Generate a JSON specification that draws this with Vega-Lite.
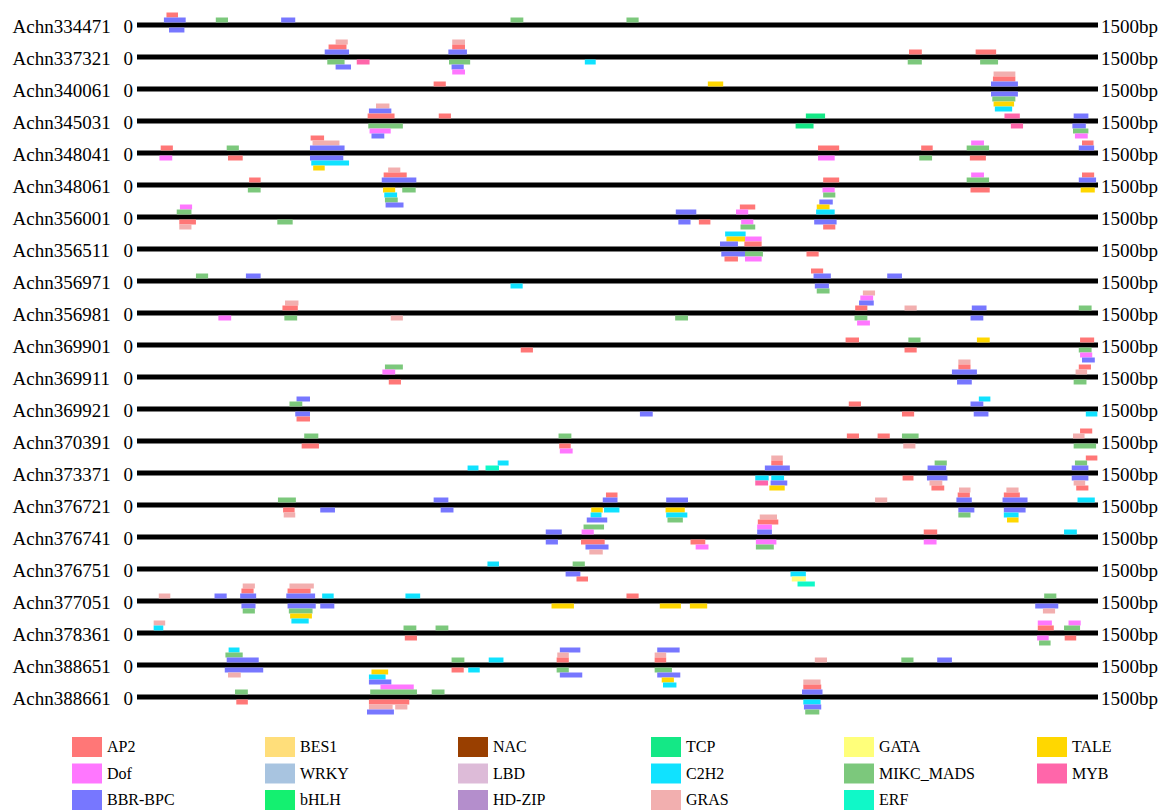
{
  "$schema": "https://vega.github.io/schema/vega-lite/v6.json",
  "width": 961,
  "height": 704,
  "autosize": "none",
  "padding": {"left": 137, "top": 9, "right": 68, "bottom": 99},
  "background": "white",
  "config": {"view": {"stroke": null}},
  "datasets": {
    "genes": [
      {"g": "Achn334471", "s": 0, "e": 1500, "l": 0},
      {"g": "Achn337321", "s": 0, "e": 1500, "l": 0},
      {"g": "Achn340061", "s": 0, "e": 1500, "l": 0},
      {"g": "Achn345031", "s": 0, "e": 1500, "l": 0},
      {"g": "Achn348041", "s": 0, "e": 1500, "l": 0},
      {"g": "Achn348061", "s": 0, "e": 1500, "l": 0},
      {"g": "Achn356001", "s": 0, "e": 1500, "l": 0},
      {"g": "Achn356511", "s": 0, "e": 1500, "l": 0},
      {"g": "Achn356971", "s": 0, "e": 1500, "l": 0},
      {"g": "Achn356981", "s": 0, "e": 1500, "l": 0},
      {"g": "Achn369901", "s": 0, "e": 1500, "l": 0},
      {"g": "Achn369911", "s": 0, "e": 1500, "l": 0},
      {"g": "Achn369921", "s": 0, "e": 1500, "l": 0},
      {"g": "Achn370391", "s": 0, "e": 1500, "l": 0},
      {"g": "Achn373371", "s": 0, "e": 1500, "l": 0},
      {"g": "Achn376721", "s": 0, "e": 1500, "l": 0},
      {"g": "Achn376741", "s": 0, "e": 1500, "l": 0},
      {"g": "Achn376751", "s": 0, "e": 1500, "l": 0},
      {"g": "Achn377051", "s": 0, "e": 1500, "l": 0},
      {"g": "Achn378361", "s": 0, "e": 1500, "l": 0},
      {"g": "Achn388651", "s": 0, "e": 1500, "l": 0},
      {"g": "Achn388661", "s": 0, "e": 1500, "l": 0}
    ],
    "boxes": [
      {"g":"Achn334471","t":"AP2","s":46,"e":64,"l":2},
      {"g":"Achn334471","t":"BBR-BPC","s":42,"e":76,"l":1},
      {"g":"Achn334471","t":"BBR-BPC","s":50,"e":74,"l":-1},
      {"g":"Achn334471","t":"MIKC_MADS","s":123,"e":142,"l":1},
      {"g":"Achn334471","t":"BBR-BPC","s":225,"e":247,"l":1},
      {"g":"Achn334471","t":"MIKC_MADS","s":583,"e":603,"l":1},
      {"g":"Achn334471","t":"MIKC_MADS","s":764,"e":783,"l":1},

      {"g":"Achn337321","t":"GRAS","s":310,"e":329,"l":3},
      {"g":"Achn337321","t":"AP2","s":299,"e":327,"l":2},
      {"g":"Achn337321","t":"BBR-BPC","s":293,"e":331,"l":1},
      {"g":"Achn337321","t":"MIKC_MADS","s":297,"e":324,"l":-1},
      {"g":"Achn337321","t":"BBR-BPC","s":310,"e":334,"l":-2},
      {"g":"Achn337321","t":"MYB","s":343,"e":363,"l":-1},
      {"g":"Achn337321","t":"GRAS","s":492,"e":512,"l":3},
      {"g":"Achn337321","t":"AP2","s":492,"e":512,"l":2},
      {"g":"Achn337321","t":"BBR-BPC","s":486,"e":515,"l":1},
      {"g":"Achn337321","t":"MIKC_MADS","s":487,"e":520,"l":-1},
      {"g":"Achn337321","t":"BBR-BPC","s":491,"e":510,"l":-2},
      {"g":"Achn337321","t":"Dof","s":492,"e":512,"l":-3},
      {"g":"Achn337321","t":"C2H2","s":699,"e":716,"l":-1},
      {"g":"Achn337321","t":"AP2","s":1205,"e":1225,"l":1},
      {"g":"Achn337321","t":"MIKC_MADS","s":1203,"e":1225,"l":-1},
      {"g":"Achn337321","t":"AP2","s":1309,"e":1341,"l":1},
      {"g":"Achn337321","t":"MIKC_MADS","s":1316,"e":1344,"l":-1},

      {"g":"Achn340061","t":"AP2","s":463,"e":482,"l":1},
      {"g":"Achn340061","t":"TALE","s":891,"e":915,"l":1},
      {"g":"Achn340061","t":"GRAS","s":1337,"e":1371,"l":3},
      {"g":"Achn340061","t":"AP2","s":1336,"e":1371,"l":2},
      {"g":"Achn340061","t":"BBR-BPC","s":1333,"e":1375,"l":1},
      {"g":"Achn340061","t":"BBR-BPC","s":1333,"e":1375,"l":-1},
      {"g":"Achn340061","t":"MIKC_MADS","s":1335,"e":1371,"l":-2},
      {"g":"Achn340061","t":"TALE","s":1337,"e":1369,"l":-3},
      {"g":"Achn340061","t":"C2H2","s":1339,"e":1366,"l":-4},

      {"g":"Achn345031","t":"GRAS","s":373,"e":394,"l":3},
      {"g":"Achn345031","t":"BBR-BPC","s":362,"e":397,"l":2},
      {"g":"Achn345031","t":"AP2","s":360,"e":402,"l":1},
      {"g":"Achn345031","t":"MIKC_MADS","s":361,"e":415,"l":-1},
      {"g":"Achn345031","t":"Dof","s":363,"e":396,"l":-2},
      {"g":"Achn345031","t":"BBR-BPC","s":366,"e":386,"l":-3},
      {"g":"Achn345031","t":"AP2","s":471,"e":490,"l":1},
      {"g":"Achn345031","t":"TCP","s":1044,"e":1074,"l":1},
      {"g":"Achn345031","t":"TCP","s":1028,"e":1056,"l":-1},
      {"g":"Achn345031","t":"MYB","s":1354,"e":1378,"l":1},
      {"g":"Achn345031","t":"MYB","s":1364,"e":1383,"l":-1},
      {"g":"Achn345031","t":"BBR-BPC","s":1462,"e":1485,"l":1},
      {"g":"Achn345031","t":"BBR-BPC","s":1460,"e":1481,"l":-1},
      {"g":"Achn345031","t":"MIKC_MADS","s":1461,"e":1485,"l":-2},
      {"g":"Achn345031","t":"Dof","s":1464,"e":1484,"l":-3},

      {"g":"Achn348041","t":"AP2","s":37,"e":56,"l":1},
      {"g":"Achn348041","t":"Dof","s":35,"e":55,"l":-1},
      {"g":"Achn348041","t":"MIKC_MADS","s":140,"e":159,"l":1},
      {"g":"Achn348041","t":"AP2","s":142,"e":165,"l":-1},
      {"g":"Achn348041","t":"AP2","s":271,"e":292,"l":3},
      {"g":"Achn348041","t":"GRAS","s":274,"e":316,"l":2},
      {"g":"Achn348041","t":"BBR-BPC","s":270,"e":324,"l":1},
      {"g":"Achn348041","t":"BBR-BPC","s":270,"e":322,"l":-1},
      {"g":"Achn348041","t":"C2H2","s":272,"e":331,"l":-2},
      {"g":"Achn348041","t":"TALE","s":275,"e":293,"l":-3},
      {"g":"Achn348041","t":"AP2","s":1063,"e":1096,"l":1},
      {"g":"Achn348041","t":"Dof","s":1063,"e":1089,"l":-1},
      {"g":"Achn348041","t":"AP2","s":1224,"e":1242,"l":1},
      {"g":"Achn348041","t":"MIKC_MADS","s":1221,"e":1241,"l":-1},
      {"g":"Achn348041","t":"Dof","s":1302,"e":1322,"l":2},
      {"g":"Achn348041","t":"MIKC_MADS","s":1295,"e":1330,"l":1},
      {"g":"Achn348041","t":"AP2","s":1300,"e":1325,"l":-1},
      {"g":"Achn348041","t":"AP2","s":1475,"e":1493,"l":2},
      {"g":"Achn348041","t":"BBR-BPC","s":1470,"e":1494,"l":1},

      {"g":"Achn348061","t":"AP2","s":175,"e":193,"l":1},
      {"g":"Achn348061","t":"MIKC_MADS","s":173,"e":193,"l":-1},
      {"g":"Achn348061","t":"GRAS","s":392,"e":411,"l":3},
      {"g":"Achn348061","t":"AP2","s":385,"e":421,"l":2},
      {"g":"Achn348061","t":"BBR-BPC","s":382,"e":436,"l":1},
      {"g":"Achn348061","t":"TALE","s":384,"e":403,"l":-1},
      {"g":"Achn348061","t":"C2H2","s":386,"e":406,"l":-2},
      {"g":"Achn348061","t":"MIKC_MADS","s":387,"e":407,"l":-3},
      {"g":"Achn348061","t":"BBR-BPC","s":388,"e":416,"l":-4},
      {"g":"Achn348061","t":"MIKC_MADS","s":414,"e":435,"l":-1},
      {"g":"Achn348061","t":"AP2","s":1071,"e":1096,"l":1},
      {"g":"Achn348061","t":"Dof","s":1070,"e":1089,"l":-1},
      {"g":"Achn348061","t":"MIKC_MADS","s":1071,"e":1090,"l":-2},
      {"g":"Achn348061","t":"Dof","s":1302,"e":1322,"l":2},
      {"g":"Achn348061","t":"MIKC_MADS","s":1295,"e":1330,"l":1},
      {"g":"Achn348061","t":"AP2","s":1301,"e":1331,"l":-1},
      {"g":"Achn348061","t":"AP2","s":1475,"e":1494,"l":2},
      {"g":"Achn348061","t":"BBR-BPC","s":1470,"e":1497,"l":1},
      {"g":"Achn348061","t":"TALE","s":1473,"e":1495,"l":-1},

      {"g":"Achn356001","t":"Dof","s":67,"e":86,"l":2},
      {"g":"Achn356001","t":"MIKC_MADS","s":62,"e":85,"l":1},
      {"g":"Achn356001","t":"AP2","s":66,"e":92,"l":-1},
      {"g":"Achn356001","t":"GRAS","s":66,"e":85,"l":-2},
      {"g":"Achn356001","t":"MIKC_MADS","s":219,"e":243,"l":-1},
      {"g":"Achn356001","t":"BBR-BPC","s":841,"e":873,"l":1},
      {"g":"Achn356001","t":"BBR-BPC","s":845,"e":864,"l":-1},
      {"g":"Achn356001","t":"AP2","s":877,"e":895,"l":-1},
      {"g":"Achn356001","t":"AP2","s":941,"e":965,"l":2},
      {"g":"Achn356001","t":"Dof","s":935,"e":954,"l":1},
      {"g":"Achn356001","t":"Dof","s":943,"e":962,"l":-1},
      {"g":"Achn356001","t":"MIKC_MADS","s":942,"e":965,"l":-2},
      {"g":"Achn356001","t":"BBR-BPC","s":1065,"e":1086,"l":3},
      {"g":"Achn356001","t":"TALE","s":1061,"e":1081,"l":2},
      {"g":"Achn356001","t":"C2H2","s":1060,"e":1089,"l":1},
      {"g":"Achn356001","t":"BBR-BPC","s":1057,"e":1092,"l":-1},
      {"g":"Achn356001","t":"AP2","s":1071,"e":1090,"l":-2},

      {"g":"Achn356511","t":"C2H2","s":918,"e":950,"l":3},
      {"g":"Achn356511","t":"TALE","s":920,"e":949,"l":2},
      {"g":"Achn356511","t":"BBR-BPC","s":910,"e":938,"l":1},
      {"g":"Achn356511","t":"Dof","s":949,"e":975,"l":2},
      {"g":"Achn356511","t":"AP2","s":948,"e":975,"l":1},
      {"g":"Achn356511","t":"BBR-BPC","s":912,"e":949,"l":-1},
      {"g":"Achn356511","t":"AP2","s":917,"e":938,"l":-2},
      {"g":"Achn356511","t":"MIKC_MADS","s":949,"e":977,"l":-1},
      {"g":"Achn356511","t":"Dof","s":949,"e":975,"l":-2},
      {"g":"Achn356511","t":"AP2","s":1045,"e":1064,"l":-1},

      {"g":"Achn356971","t":"MIKC_MADS","s":92,"e":111,"l":1},
      {"g":"Achn356971","t":"BBR-BPC","s":170,"e":193,"l":1},
      {"g":"Achn356971","t":"C2H2","s":583,"e":602,"l":-1},
      {"g":"Achn356971","t":"AP2","s":1052,"e":1071,"l":2},
      {"g":"Achn356971","t":"BBR-BPC","s":1056,"e":1083,"l":1},
      {"g":"Achn356971","t":"BBR-BPC","s":1058,"e":1080,"l":-1},
      {"g":"Achn356971","t":"MIKC_MADS","s":1061,"e":1081,"l":-2},
      {"g":"Achn356971","t":"BBR-BPC","s":1171,"e":1194,"l":1},

      {"g":"Achn356981","t":"Dof","s":127,"e":147,"l":-1},
      {"g":"Achn356981","t":"GRAS","s":231,"e":252,"l":2},
      {"g":"Achn356981","t":"AP2","s":227,"e":251,"l":1},
      {"g":"Achn356981","t":"MIKC_MADS","s":230,"e":250,"l":-1},
      {"g":"Achn356981","t":"GRAS","s":396,"e":415,"l":-1},
      {"g":"Achn356981","t":"MIKC_MADS","s":840,"e":860,"l":-1},
      {"g":"Achn356981","t":"GRAS","s":1133,"e":1152,"l":4},
      {"g":"Achn356981","t":"Dof","s":1129,"e":1149,"l":3},
      {"g":"Achn356981","t":"BBR-BPC","s":1127,"e":1150,"l":2},
      {"g":"Achn356981","t":"AP2","s":1121,"e":1140,"l":1},
      {"g":"Achn356981","t":"MIKC_MADS","s":1120,"e":1140,"l":-1},
      {"g":"Achn356981","t":"Dof","s":1124,"e":1144,"l":-2},
      {"g":"Achn356981","t":"GRAS","s":1198,"e":1217,"l":1},
      {"g":"Achn356981","t":"BBR-BPC","s":1303,"e":1326,"l":1},
      {"g":"Achn356981","t":"BBR-BPC","s":1301,"e":1321,"l":-1},
      {"g":"Achn356981","t":"MIKC_MADS","s":1470,"e":1490,"l":1},

      {"g":"Achn369901","t":"AP2","s":599,"e":618,"l":-1},
      {"g":"Achn369901","t":"AP2","s":1106,"e":1127,"l":1},
      {"g":"Achn369901","t":"MIKC_MADS","s":1204,"e":1223,"l":1},
      {"g":"Achn369901","t":"AP2","s":1198,"e":1217,"l":-1},
      {"g":"Achn369901","t":"TALE","s":1311,"e":1331,"l":1},
      {"g":"Achn369901","t":"AP2","s":1472,"e":1494,"l":1},
      {"g":"Achn369901","t":"MIKC_MADS","s":1470,"e":1490,"l":-1},
      {"g":"Achn369901","t":"Dof","s":1472,"e":1491,"l":-2},
      {"g":"Achn369901","t":"BBR-BPC","s":1475,"e":1495,"l":-3},

      {"g":"Achn369911","t":"MIKC_MADS","s":387,"e":415,"l":2},
      {"g":"Achn369911","t":"Dof","s":383,"e":403,"l":1},
      {"g":"Achn369911","t":"AP2","s":393,"e":412,"l":-1},
      {"g":"Achn369911","t":"GRAS","s":1282,"e":1301,"l":3},
      {"g":"Achn369911","t":"AP2","s":1282,"e":1301,"l":2},
      {"g":"Achn369911","t":"BBR-BPC","s":1272,"e":1311,"l":1},
      {"g":"Achn369911","t":"BBR-BPC","s":1280,"e":1303,"l":-1},
      {"g":"Achn369911","t":"AP2","s":1470,"e":1489,"l":2},
      {"g":"Achn369911","t":"GRAS","s":1465,"e":1483,"l":1},
      {"g":"Achn369911","t":"MIKC_MADS","s":1462,"e":1482,"l":-1},

      {"g":"Achn369921","t":"BBR-BPC","s":249,"e":270,"l":2},
      {"g":"Achn369921","t":"MIKC_MADS","s":238,"e":258,"l":1},
      {"g":"Achn369921","t":"BBR-BPC","s":247,"e":270,"l":-1},
      {"g":"Achn369921","t":"AP2","s":249,"e":270,"l":-2},
      {"g":"Achn369921","t":"BBR-BPC","s":785,"e":805,"l":-1},
      {"g":"Achn369921","t":"AP2","s":1111,"e":1130,"l":1},
      {"g":"Achn369921","t":"AP2","s":1194,"e":1213,"l":-1},
      {"g":"Achn369921","t":"C2H2","s":1314,"e":1332,"l":2},
      {"g":"Achn369921","t":"BBR-BPC","s":1301,"e":1321,"l":1},
      {"g":"Achn369921","t":"BBR-BPC","s":1306,"e":1329,"l":-1},
      {"g":"Achn369921","t":"C2H2","s":1481,"e":1499,"l":-1},

      {"g":"Achn370391","t":"MIKC_MADS","s":261,"e":283,"l":1},
      {"g":"Achn370391","t":"AP2","s":257,"e":284,"l":-1},
      {"g":"Achn370391","t":"MIKC_MADS","s":658,"e":678,"l":1},
      {"g":"Achn370391","t":"AP2","s":659,"e":677,"l":-1},
      {"g":"Achn370391","t":"Dof","s":660,"e":680,"l":-2},
      {"g":"Achn370391","t":"AP2","s":1108,"e":1127,"l":1},
      {"g":"Achn370391","t":"AP2","s":1156,"e":1175,"l":1},
      {"g":"Achn370391","t":"MIKC_MADS","s":1194,"e":1220,"l":1},
      {"g":"Achn370391","t":"GRAS","s":1196,"e":1215,"l":-1},
      {"g":"Achn370391","t":"AP2","s":1472,"e":1491,"l":2},
      {"g":"Achn370391","t":"GRAS","s":1461,"e":1479,"l":1},
      {"g":"Achn370391","t":"MIKC_MADS","s":1462,"e":1497,"l":-1},

      {"g":"Achn373371","t":"C2H2","s":516,"e":533,"l":1},
      {"g":"Achn373371","t":"ERF","s":544,"e":565,"l":1},
      {"g":"Achn373371","t":"C2H2","s":563,"e":580,"l":2},
      {"g":"Achn373371","t":"GRAS","s":990,"e":1008,"l":3},
      {"g":"Achn373371","t":"AP2","s":990,"e":1008,"l":2},
      {"g":"Achn373371","t":"BBR-BPC","s":980,"e":1019,"l":1},
      {"g":"Achn373371","t":"C2H2","s":965,"e":986,"l":-1},
      {"g":"Achn373371","t":"C2H2","s":990,"e":1010,"l":-1},
      {"g":"Achn373371","t":"MYB","s":965,"e":985,"l":-2},
      {"g":"Achn373371","t":"BBR-BPC","s":989,"e":1015,"l":-2},
      {"g":"Achn373371","t":"TALE","s":987,"e":1011,"l":-3},
      {"g":"Achn373371","t":"AP2","s":1195,"e":1212,"l":-1},
      {"g":"Achn373371","t":"MIKC_MADS","s":1245,"e":1264,"l":2},
      {"g":"Achn373371","t":"BBR-BPC","s":1234,"e":1263,"l":1},
      {"g":"Achn373371","t":"BBR-BPC","s":1233,"e":1265,"l":-1},
      {"g":"Achn373371","t":"GRAS","s":1237,"e":1257,"l":-2},
      {"g":"Achn373371","t":"AP2","s":1240,"e":1260,"l":-3},
      {"g":"Achn373371","t":"AP2","s":1481,"e":1499,"l":3},
      {"g":"Achn373371","t":"MIKC_MADS","s":1464,"e":1483,"l":2},
      {"g":"Achn373371","t":"BBR-BPC","s":1459,"e":1485,"l":1},
      {"g":"Achn373371","t":"BBR-BPC","s":1459,"e":1485,"l":-1},
      {"g":"Achn373371","t":"GRAS","s":1462,"e":1480,"l":-2},
      {"g":"Achn373371","t":"AP2","s":1466,"e":1485,"l":-3},

      {"g":"Achn376721","t":"MIKC_MADS","s":220,"e":248,"l":1},
      {"g":"Achn376721","t":"AP2","s":228,"e":246,"l":-1},
      {"g":"Achn376721","t":"GRAS","s":229,"e":247,"l":-2},
      {"g":"Achn376721","t":"BBR-BPC","s":286,"e":309,"l":-1},
      {"g":"Achn376721","t":"BBR-BPC","s":463,"e":486,"l":1},
      {"g":"Achn376721","t":"BBR-BPC","s":474,"e":494,"l":-1},
      {"g":"Achn376721","t":"AP2","s":732,"e":750,"l":2},
      {"g":"Achn376721","t":"BBR-BPC","s":727,"e":750,"l":1},
      {"g":"Achn376721","t":"C2H2","s":729,"e":753,"l":-1},
      {"g":"Achn376721","t":"TALE","s":709,"e":727,"l":-1},
      {"g":"Achn376721","t":"C2H2","s":708,"e":725,"l":-2},
      {"g":"Achn376721","t":"BBR-BPC","s":702,"e":734,"l":-3},
      {"g":"Achn376721","t":"TALE","s":825,"e":855,"l":-1},
      {"g":"Achn376721","t":"BBR-BPC","s":826,"e":860,"l":1},
      {"g":"Achn376721","t":"C2H2","s":826,"e":859,"l":-2},
      {"g":"Achn376721","t":"MIKC_MADS","s":828,"e":852,"l":-3},
      {"g":"Achn376721","t":"GRAS","s":1152,"e":1171,"l":1},
      {"g":"Achn376721","t":"GRAS","s":1283,"e":1301,"l":3},
      {"g":"Achn376721","t":"AP2","s":1281,"e":1300,"l":2},
      {"g":"Achn376721","t":"BBR-BPC","s":1279,"e":1303,"l":1},
      {"g":"Achn376721","t":"BBR-BPC","s":1282,"e":1307,"l":-1},
      {"g":"Achn376721","t":"MIKC_MADS","s":1282,"e":1301,"l":-2},
      {"g":"Achn376721","t":"GRAS","s":1357,"e":1376,"l":3},
      {"g":"Achn376721","t":"AP2","s":1353,"e":1378,"l":2},
      {"g":"Achn376721","t":"BBR-BPC","s":1351,"e":1390,"l":1},
      {"g":"Achn376721","t":"BBR-BPC","s":1353,"e":1387,"l":-1},
      {"g":"Achn376721","t":"C2H2","s":1353,"e":1376,"l":-2},
      {"g":"Achn376721","t":"TALE","s":1358,"e":1376,"l":-3},
      {"g":"Achn376721","t":"C2H2","s":1468,"e":1495,"l":1},

      {"g":"Achn376741","t":"BBR-BPC","s":638,"e":663,"l":1},
      {"g":"Achn376741","t":"BBR-BPC","s":638,"e":657,"l":-1},
      {"g":"Achn376741","t":"MIKC_MADS","s":697,"e":729,"l":2},
      {"g":"Achn376741","t":"Dof","s":694,"e":713,"l":1},
      {"g":"Achn376741","t":"AP2","s":693,"e":730,"l":-1},
      {"g":"Achn376741","t":"BBR-BPC","s":700,"e":736,"l":-2},
      {"g":"Achn376741","t":"GRAS","s":706,"e":727,"l":-3},
      {"g":"Achn376741","t":"AP2","s":864,"e":887,"l":-1},
      {"g":"Achn376741","t":"Dof","s":872,"e":892,"l":-2},
      {"g":"Achn376741","t":"GRAS","s":972,"e":999,"l":4},
      {"g":"Achn376741","t":"AP2","s":969,"e":1001,"l":3},
      {"g":"Achn376741","t":"Dof","s":968,"e":991,"l":2},
      {"g":"Achn376741","t":"BBR-BPC","s":968,"e":991,"l":1},
      {"g":"Achn376741","t":"Dof","s":966,"e":998,"l":-1},
      {"g":"Achn376741","t":"MIKC_MADS","s":966,"e":994,"l":-2},
      {"g":"Achn376741","t":"AP2","s":1228,"e":1249,"l":1},
      {"g":"Achn376741","t":"Dof","s":1228,"e":1248,"l":-1},
      {"g":"Achn376741","t":"C2H2","s":1447,"e":1467,"l":1},

      {"g":"Achn376751","t":"C2H2","s":547,"e":565,"l":1},
      {"g":"Achn376751","t":"MIKC_MADS","s":680,"e":699,"l":1},
      {"g":"Achn376751","t":"BBR-BPC","s":669,"e":692,"l":-1},
      {"g":"Achn376751","t":"AP2","s":686,"e":704,"l":-2},
      {"g":"Achn376751","t":"C2H2","s":1020,"e":1044,"l":-1},
      {"g":"Achn376751","t":"GATA","s":1022,"e":1044,"l":-2},
      {"g":"Achn376751","t":"ERF","s":1031,"e":1058,"l":-3},

      {"g":"Achn377051","t":"GRAS","s":34,"e":52,"l":1},
      {"g":"Achn377051","t":"BBR-BPC","s":121,"e":140,"l":1},
      {"g":"Achn377051","t":"GRAS","s":165,"e":184,"l":3},
      {"g":"Achn377051","t":"AP2","s":163,"e":182,"l":2},
      {"g":"Achn377051","t":"BBR-BPC","s":161,"e":186,"l":1},
      {"g":"Achn377051","t":"BBR-BPC","s":163,"e":185,"l":-1},
      {"g":"Achn377051","t":"MIKC_MADS","s":165,"e":184,"l":-2},
      {"g":"Achn377051","t":"GRAS","s":238,"e":276,"l":3},
      {"g":"Achn377051","t":"AP2","s":235,"e":271,"l":2},
      {"g":"Achn377051","t":"BBR-BPC","s":233,"e":278,"l":1},
      {"g":"Achn377051","t":"BBR-BPC","s":235,"e":279,"l":-1},
      {"g":"Achn377051","t":"MIKC_MADS","s":237,"e":274,"l":-2},
      {"g":"Achn377051","t":"TALE","s":239,"e":273,"l":-3},
      {"g":"Achn377051","t":"C2H2","s":241,"e":268,"l":-4},
      {"g":"Achn377051","t":"C2H2","s":289,"e":307,"l":1},
      {"g":"Achn377051","t":"BBR-BPC","s":286,"e":308,"l":-1},
      {"g":"Achn377051","t":"C2H2","s":419,"e":442,"l":1},
      {"g":"Achn377051","t":"TALE","s":647,"e":682,"l":-1},
      {"g":"Achn377051","t":"AP2","s":764,"e":783,"l":1},
      {"g":"Achn377051","t":"TALE","s":816,"e":849,"l":-1},
      {"g":"Achn377051","t":"TALE","s":863,"e":890,"l":-1},
      {"g":"Achn377051","t":"MIKC_MADS","s":1416,"e":1435,"l":1},
      {"g":"Achn377051","t":"BBR-BPC","s":1402,"e":1438,"l":-1},
      {"g":"Achn377051","t":"GRAS","s":1414,"e":1433,"l":-2},

      {"g":"Achn378361","t":"GRAS","s":26,"e":44,"l":2},
      {"g":"Achn378361","t":"C2H2","s":26,"e":41,"l":1},
      {"g":"Achn378361","t":"MIKC_MADS","s":416,"e":436,"l":1},
      {"g":"Achn378361","t":"AP2","s":418,"e":437,"l":-1},
      {"g":"Achn378361","t":"MIKC_MADS","s":466,"e":486,"l":1},
      {"g":"Achn378361","t":"Dof","s":1406,"e":1428,"l":2},
      {"g":"Achn378361","t":"AP2","s":1406,"e":1431,"l":1},
      {"g":"Achn378361","t":"Dof","s":1405,"e":1423,"l":-1},
      {"g":"Achn378361","t":"MIKC_MADS","s":1408,"e":1426,"l":-2},
      {"g":"Achn378361","t":"Dof","s":1454,"e":1473,"l":2},
      {"g":"Achn378361","t":"MIKC_MADS","s":1447,"e":1472,"l":1},
      {"g":"Achn378361","t":"AP2","s":1448,"e":1466,"l":-1},

      {"g":"Achn388651","t":"C2H2","s":143,"e":160,"l":3},
      {"g":"Achn388651","t":"MIKC_MADS","s":138,"e":165,"l":2},
      {"g":"Achn388651","t":"BBR-BPC","s":140,"e":190,"l":1},
      {"g":"Achn388651","t":"BBR-BPC","s":137,"e":197,"l":-1},
      {"g":"Achn388651","t":"GRAS","s":142,"e":162,"l":-2},
      {"g":"Achn388651","t":"MIKC_MADS","s":491,"e":511,"l":1},
      {"g":"Achn388651","t":"AP2","s":491,"e":510,"l":-1},
      {"g":"Achn388651","t":"C2H2","s":517,"e":535,"l":-1},
      {"g":"Achn388651","t":"C2H2","s":549,"e":572,"l":1},
      {"g":"Achn388651","t":"BBR-BPC","s":660,"e":692,"l":3},
      {"g":"Achn388651","t":"GRAS","s":656,"e":674,"l":2},
      {"g":"Achn388651","t":"AP2","s":655,"e":674,"l":1},
      {"g":"Achn388651","t":"MIKC_MADS","s":655,"e":674,"l":-1},
      {"g":"Achn388651","t":"BBR-BPC","s":660,"e":695,"l":-2},
      {"g":"Achn388651","t":"BBR-BPC","s":812,"e":847,"l":3},
      {"g":"Achn388651","t":"GRAS","s":808,"e":826,"l":2},
      {"g":"Achn388651","t":"AP2","s":808,"e":826,"l":1},
      {"g":"Achn388651","t":"MIKC_MADS","s":808,"e":835,"l":-1},
      {"g":"Achn388651","t":"BBR-BPC","s":812,"e":848,"l":-2},
      {"g":"Achn388651","t":"TALE","s":819,"e":838,"l":-3},
      {"g":"Achn388651","t":"C2H2","s":821,"e":842,"l":-4},
      {"g":"Achn388651","t":"GRAS","s":1058,"e":1077,"l":1},
      {"g":"Achn388651","t":"MIKC_MADS","s":1193,"e":1212,"l":1},
      {"g":"Achn388651","t":"BBR-BPC","s":1249,"e":1272,"l":1},

      {"g":"Achn388661","t":"MIKC_MADS","s":153,"e":173,"l":1},
      {"g":"Achn388661","t":"AP2","s":155,"e":173,"l":-1},
      {"g":"Achn388661","t":"TALE","s":366,"e":392,"l":5},
      {"g":"Achn388661","t":"C2H2","s":362,"e":388,"l":4},
      {"g":"Achn388661","t":"BBR-BPC","s":362,"e":397,"l":3},
      {"g":"Achn388661","t":"Dof","s":380,"e":432,"l":2},
      {"g":"Achn388661","t":"MIKC_MADS","s":364,"e":437,"l":1},
      {"g":"Achn388661","t":"AP2","s":362,"e":425,"l":-1},
      {"g":"Achn388661","t":"GRAS","s":362,"e":399,"l":-2},
      {"g":"Achn388661","t":"GRAS","s":403,"e":422,"l":-2},
      {"g":"Achn388661","t":"BBR-BPC","s":359,"e":401,"l":-3},
      {"g":"Achn388661","t":"MIKC_MADS","s":460,"e":480,"l":1},
      {"g":"Achn388661","t":"GRAS","s":1040,"e":1067,"l":3},
      {"g":"Achn388661","t":"AP2","s":1040,"e":1068,"l":2},
      {"g":"Achn388661","t":"BBR-BPC","s":1038,"e":1070,"l":1},
      {"g":"Achn388661","t":"C2H2","s":1040,"e":1067,"l":-1},
      {"g":"Achn388661","t":"BBR-BPC","s":1041,"e":1068,"l":-2},
      {"g":"Achn388661","t":"MIKC_MADS","s":1043,"e":1065,"l":-3}
    ]
  },
  "encoding": {
    "y": {
      "field": "g",
      "type": "nominal",
      "sort": null,
      "scale": {
        "domain": ["Achn334471","Achn337321","Achn340061","Achn345031","Achn348041","Achn348061","Achn356001","Achn356511","Achn356971","Achn356981","Achn369901","Achn369911","Achn369921","Achn370391","Achn373371","Achn376721","Achn376741","Achn376751","Achn377051","Achn378361","Achn388651","Achn388661"],
        "paddingInner": 0,
        "paddingOuter": 0
      },
      "axis": {
        "title": null,
        "domain": false,
        "ticks": false,
        "tickSize": 0,
        "grid": false,
        "labelAlign": "left",
        "labelPadding": 125,
        "labelOffset": 2,
        "labelFont": "Liberation Serif",
        "labelFontSize": 19,
        "labelColor": "black",
        "labelLimit": 200
      }
    }
  },
  "layer": [
    {
      "data": {"name": "genes"},
      "mark": {"type": "bar", "color": "black"},
      "encoding": {
        "x": {"field": "s", "type": "quantitative", "scale": {"domain": [0, 1500], "nice": false, "zero": false}, "axis": null},
        "x2": {"field": "e"},
        "yOffset": {
          "field": "l",
          "type": "ordinal",
          "scale": {"type": "band", "domain": [5,4,3,2,1,0,-1,-2,-3,-4,-5], "range": [-11.5, 43.5], "paddingInner": 0, "paddingOuter": 0}
        }
      }
    },
    {
      "data": {"name": "boxes"},
      "mark": {"type": "bar"},
      "encoding": {
        "x": {"field": "s", "type": "quantitative"},
        "x2": {"field": "e"},
        "yOffset": {"field": "l", "type": "ordinal"},
        "color": {
          "field": "t",
          "type": "nominal",
          "scale": {
            "domain": ["AP2","Dof","BBR-BPC","BES1","WRKY","bHLH","NAC","LBD","HD-ZIP","TCP","C2H2","GRAS","GATA","MIKC_MADS","ERF","TALE","MYB"],
            "range": ["#FF7777","#FF77FF","#7777FF","#FFDE7A","#A8C4E0","#14F070","#993F00","#DDBBD8","#B48ECC","#14E886","#10E2FF","#F2AFAF","#FFFF7A","#7CC87C","#10F8C8","#FFD700","#FF66AA"]
          },
          "legend": {
            "orient": "none",
            "legendX": -60,
            "legendY": 728,
            "columns": 6,
            "title": null,
            "symbolType": "M-1.5,-1H1.5V1H-1.5Z",
            "symbolSize": 400,
            "symbolStrokeWidth": 0,
            "symbolOpacity": 1,
            "labelFont": "Liberation Serif",
            "labelFontSize": 16,
            "labelColor": "black",
            "labelOffset": 10,
            "labelLimit": 200,
            "columnPadding": 61,
            "rowPadding": 6.5,
            "gridAlign": "all",
            "padding": 0
          }
        }
      }
    },
    {
      "data": {"name": "genes"},
      "mark": {"type": "text", "align": "right", "baseline": "middle", "dx": -4, "dy": 2, "font": "Liberation Serif", "fontSize": 19, "color": "black"},
      "encoding": {
        "x": {"field": "s", "type": "quantitative"},
        "text": {"value": "0"}
      }
    },
    {
      "data": {"name": "genes"},
      "mark": {"type": "text", "align": "left", "baseline": "middle", "dx": 3, "dy": 2, "font": "Liberation Serif", "fontSize": 19, "color": "black"},
      "encoding": {
        "x": {"field": "e", "type": "quantitative"},
        "text": {"value": "1500bp"}
      }
    }
  ]
}
